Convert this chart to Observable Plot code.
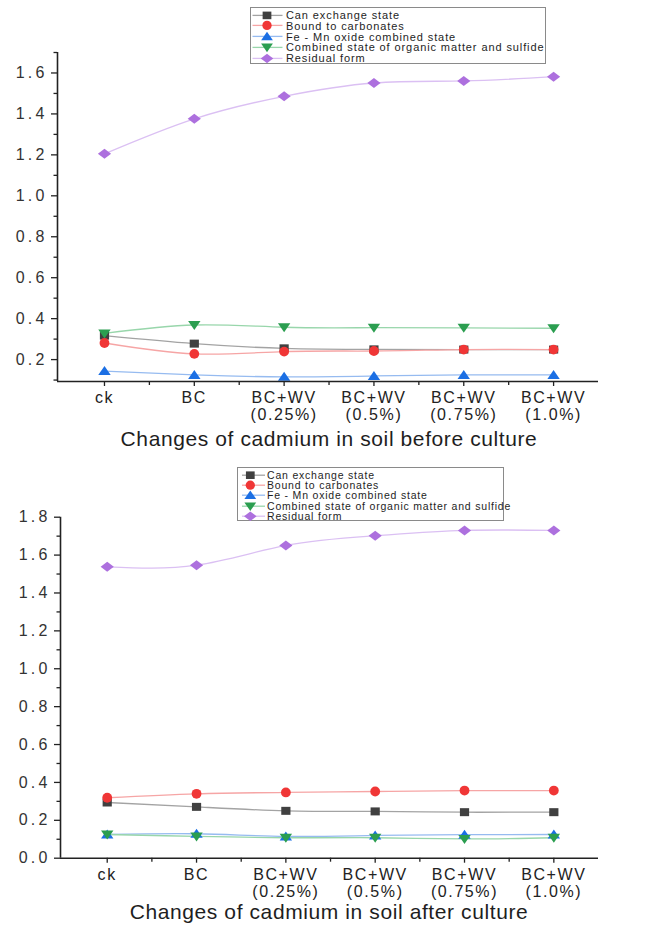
<!DOCTYPE html>
<html><head><meta charset="utf-8">
<script src="https://cdn.jsdelivr.net/npm/d3@7"></script>
<script src="https://cdn.jsdelivr.net/npm/@observablehq/plot@0.6"></script>
<style>
body{margin:0;background:#fff}
#wrap{position:relative;width:662px;height:930px;overflow:hidden;background:#fff;font-family:"Liberation Sans",Arial,sans-serif}
.chart{position:absolute;left:0}
.legend{position:absolute;border:1px solid #8a8a8a;background:#fff;box-sizing:border-box}
.row{display:flex;align-items:center;white-space:nowrap;color:#1e1e1e}
.row svg{flex:none;display:block}
.title{position:absolute;left:0;width:658px;text-align:center;font-size:21px;line-height:18px;letter-spacing:0.6px;color:#1e1e1e;white-space:nowrap}
</style></head>
<body><div id="wrap"></div>
<script>
// ---- data ----
const categories = ["ck", "BC", "BC+WV\n(0.25%)", "BC+WV\n(0.5%)", "BC+WV\n(0.75%)", "BC+WV\n(1.0%)"];
const seriesNames = ["Can exchange state", "Bound to carbonates", "Fe - Mn oxide combined state", "Combined state of organic matter and sulfide", "Residual form"];

// before culture
const beforeExchange   = [0.317, 0.278, 0.255, 0.250, 0.249, 0.249];
const beforeCarbonates = [0.281, 0.228, 0.239, 0.242, 0.249, 0.249];
const beforeFeMn       = [0.144, 0.125, 0.116, 0.120, 0.125, 0.125];
const beforeOrganic    = [0.328, 0.369, 0.358, 0.356, 0.355, 0.353];
const beforeResidual   = [1.205, 1.376, 1.486, 1.551, 1.561, 1.582];

// after culture
const afterExchange   = [0.294, 0.271, 0.250, 0.247, 0.243, 0.243];
const afterCarbonates = [0.319, 0.340, 0.347, 0.352, 0.357, 0.357];
const afterFeMn       = [0.125, 0.129, 0.115, 0.120, 0.124, 0.125];
const afterOrganic    = [0.125, 0.115, 0.108, 0.108, 0.102, 0.108];
const afterResidual   = [1.538, 1.547, 1.651, 1.702, 1.730, 1.730];

const beforeYTicks = [0.2, 0.4, 0.6, 0.8, 1.0, 1.2, 1.4, 1.6];
const afterYTicks  = [0.0, 0.2, 0.4, 0.6, 0.8, 1.0, 1.2, 1.4, 1.6, 1.8];

const titles = ["Changes of cadmium in soil before culture", "Changes of cadmium in soil after culture"];

// ---- styles ----
const lineColors = ["#a3a3a3", "#f6a5a5", "#96bbf0", "#98d6ab", "#dbc0f3"];
const markColors = ["#404040", "#f03636", "#1b6fe4", "#2b9e50", "#ad70de"];
const symbols = [
  {draw(c) { c.rect(-4.6, -4, 9.2, 8); }},
  {draw(c) { c.moveTo(4.9, 0); c.arc(0, 0, 4.9, 0, 2 * Math.PI); }},
  {draw(c) { c.moveTo(0, -5); c.lineTo(6.2, 4); c.lineTo(-6.2, 4); c.closePath(); }},
  {draw(c) { c.moveTo(0, 5); c.lineTo(6.2, -4); c.lineTo(-6.2, -4); c.closePath(); }},
  {draw(c) { c.moveTo(0, -5); c.lineTo(6.6, 0); c.lineTo(0, 5); c.lineTo(-6.6, 0); c.closePath(); }}
];

const wrap = document.getElementById("wrap");
const xDomain = [-0.523, 5.5];

function makeChart(values, opts) {
  const rows = [];
  values.forEach((arr, s) => arr.forEach((v, i) => rows.push({s, i, v})));
  const marks = [];
  values.forEach((arr, s) => {
    marks.push(Plot.line(rows.filter(d => d.s === s), {x: "i", y: "v", stroke: lineColors[s], strokeWidth: 1.3, curve: "natural", clip: true}));
  });
  values.forEach((arr, s) => {
    marks.push(Plot.dot(rows.filter(d => d.s === s), {x: "i", y: "v", symbol: symbols[s], fill: markColors[s], stroke: "none", r: 4}));
  });
  const minorY = d3.range(Math.round(opts.yDomain[0] * 10), Math.round(opts.yDomain[1] * 10) + 1)
    .map(k => k / 10).filter(t => opts.yTicks.every(m => Math.abs(m - t) > 1e-6) && t >= opts.yDomain[0] && t <= opts.yDomain[1]);
  marks.push(
    Plot.axisY({ticks: minorY, tickSize: 3.5, tickFormat: () => "", stroke: "#222", strokeWidth: 1.3, label: null}),
    Plot.axisY({ticks: opts.yTicks, tickSize: 6, tickPadding: 4, tickFormat: d => d.toFixed(1), stroke: "#222", strokeWidth: 1.3, fill: "#333", fontSize: 16, label: null}),
    Plot.axisX({ticks: [0.5, 1.5, 2.5, 3.5, 4.5], tickSize: 4, tickFormat: () => "", stroke: "#222", strokeWidth: 1.3, label: null}),
    Plot.axisX({ticks: d3.range(categories.length), tickSize: 5, tickPadding: opts.xPad, tickFormat: i => categories[i], stroke: "#222", strokeWidth: 1.3, fill: "#222", fontSize: 16, lineHeight: 1.05, label: null}),
    Plot.ruleX([xDomain[0]], {stroke: "#222", strokeWidth: 1.6}),
    Plot.ruleY([opts.yDomain[0]], {stroke: "#222", strokeWidth: 1.6})
  );
  const svg = Plot.plot({
    width: 662, height: opts.height,
    marginTop: opts.marginTop, marginBottom: opts.marginBottom, marginLeft: opts.marginLeft, marginRight: 64,
    x: {type: "linear", domain: xDomain, label: null},
    y: {domain: opts.yDomain, label: null},
    style: {fontFamily: "'Liberation Sans', Arial, sans-serif", fontSize: "16px", letterSpacing: "1.6px", background: "transparent", overflow: "visible"},
    marks
  });
  d3.select(svg).selectAll('[aria-label="y-axis tick label"] text').style("letter-spacing", "3.2px");
  svg.classList.add("chart");
  svg.style.position = "absolute";
  svg.style.top = opts.top + "px";
  svg.style.left = "0px";
  wrap.appendChild(svg);
}

function makeLegend(o) {
  const box = document.createElement("div");
  box.className = "legend";
  Object.assign(box.style, {left: o.left + "px", top: o.top + "px", width: o.width + "px", height: o.height + "px", paddingTop: o.padTop + "px"});
  seriesNames.forEach((name, s) => {
    const row = document.createElement("div");
    row.className = "row";
    row.style.height = o.rowH + "px";
    row.style.fontSize = o.fontSize + "px";
    row.style.letterSpacing = o.ls + "px";
    const p = d3.path(); symbols[s].draw(p);
    row.innerHTML = `<svg width="${o.svgW}" height="${o.rowH}"><line x1="${o.l1}" x2="${o.l2}" y1="${o.rowH/2}" y2="${o.rowH/2}" stroke="${lineColors[s]}" stroke-width="1.3"/><path d="${p}" transform="translate(${o.mx},${o.rowH/2}) scale(0.95)" fill="${markColors[s]}"/></svg><span style="margin-left:${o.gap}px">${name}</span>`;
    box.appendChild(row);
  });
  wrap.appendChild(box);
}

function makeTitle(text, top) {
  const d = document.createElement("div");
  d.className = "title";
  d.style.top = top + "px";
  d.textContent = text;
  wrap.appendChild(d);
}

makeChart([beforeExchange, beforeCarbonates, beforeFeMn, beforeOrganic, beforeResidual],
  {top: 0, height: 450, marginTop: 52, marginBottom: 69, marginLeft: 57, yDomain: [0.093, 1.70], yTicks: beforeYTicks, xPad: 5});
makeChart([afterExchange, afterCarbonates, afterFeMn, afterOrganic, afterResidual],
  {top: 460, height: 470, marginTop: 56.7, marginBottom: 72.3, marginLeft: 60, yDomain: [0, 1.8], yTicks: afterYTicks, xPad: 5});

makeLegend({left: 250, top: 7, width: 296, height: 57, padTop: 1.5, rowH: 10.8, fontSize: 11, ls: 0.9, svgW: 34, l1: 1.5, l2: 31.5, mx: 16, gap: 1});
makeLegend({left: 237, top: 467, width: 267, height: 54, padTop: 1.5, rowH: 10.4, fontSize: 10.5, ls: 0.8, svgW: 28, l1: 4, l2: 27, mx: 12.3, gap: 1});

makeTitle(titles[0], 430);
makeTitle(titles[1], 903);
</script></body></html>
